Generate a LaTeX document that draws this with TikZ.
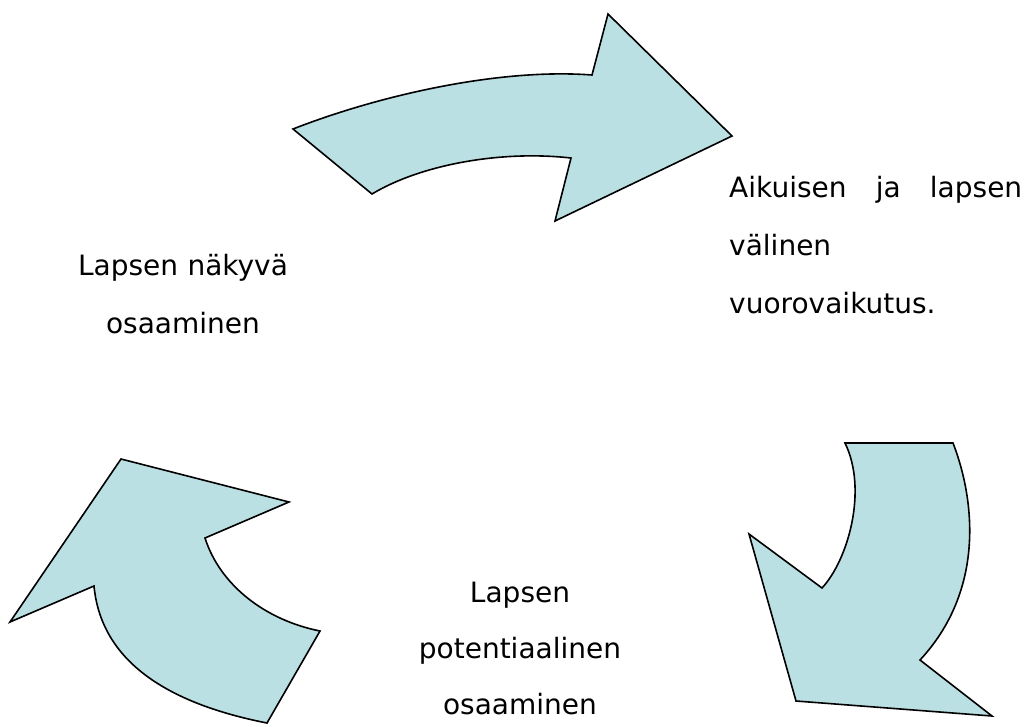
\documentclass[tikz,border=0pt]{standalone}
\usepackage{fontspec}
\setmainfont{DejaVu Sans}
\usepackage{tikz}
\usetikzlibrary{positioning}
\definecolor{cyclefill}{RGB}{187,224,227}

\begin{document}
\begin{tikzpicture}[x=1pt, y=-1pt,
    every node/.style = {font=\fontsize{28}{58}\selectfont, inner sep=0pt},
    cyclearrow/.style = {draw=black, line width=1.6pt, fill=cyclefill, line join=miter}
    ]
    \useasboundingbox (0,0) rectangle (1027,726);
    % top arrow
    \draw[cyclearrow] (293,129) .. controls (380,95) and (500,68) .. (592,75)
        -- (608,14) -- (732,136) -- (555,221) -- (571,158)
        .. controls (500,150) and (420,165) .. (372,194) -- cycle;
    % right arrow
    \draw[cyclearrow] (845,443) -- (953,443)
        .. controls (975,500) and (985,590) .. (920,660)
        -- (992,716) -- (796,701) -- (749,534) -- (822,588)
        .. controls (848,560) and (868,490) .. (845,443) -- cycle;
    % left arrow
    \draw[cyclearrow] (121,459) -- (289,502) -- (205,538)
        .. controls (220,585) and (265,620) .. (320,631)
        -- (267,723) .. controls (150,700) and (100,650) .. (94,586)
        -- (10,622) -- cycle;

    \node[anchor=base, text width=260pt, align=center] (visible) at (183,275)
        {Lapsen näkyvä\\osaaminen};
    \node[anchor=base west, text width=293pt, align=left] (interaction) at (729,197)
        {Aikuisen\hfill ja\hfill lapsen\\välinen\\vuorovaikutus.};
    \node[anchor=base, text width=260pt, align=center, font=\fontsize{28}{56}\selectfont]
        (potential) at (520,602) {Lapsen\\potentiaalinen\\osaaminen};
\end{tikzpicture}
\end{document}
